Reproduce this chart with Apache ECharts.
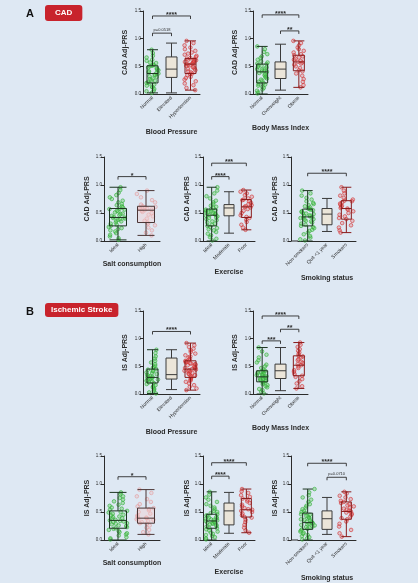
<!DOCTYPE html>
<html>
<head>
<meta charset="utf-8">
<script src="https://cdn.jsdelivr.net/npm/echarts@6/dist/echarts.min.js"></script>
<style>
html, body { margin: 0; padding: 0; background: #dee8f3; }
#main { width: 418px; height: 583px; }
</style>
</head>
<body>
<div id="main"></div>
<script>
// categories
var bpCats = ['Normal', 'Elevated', 'Hypertension'];
var bmiCats = ['Normal', 'Overweight', 'Obese'];
var saltCats = ['Ideal', 'High'];
var exCats = ['Ideal', 'Moderate', 'Poor'];
var smokeCats = ['Non-smokers', 'Quit <1 year', 'Smokers'];

// box stats: [min, Q1, median, Q3, max]
var cadBpBox = [[0.02, 0.20, 0.37, 0.51, 0.80], [0.02, 0.30, 0.45, 0.67, 0.92], [0.07, 0.37, 0.54, 0.64, 0.96]];
var cadBmiBox = [[0.00, 0.20, 0.40, 0.54, 0.86], [0.07, 0.28, 0.45, 0.58, 0.90], [0.12, 0.42, 0.58, 0.70, 0.96]];
var cadSaltBox = [[0.02, 0.27, 0.42, 0.58, 0.96], [0.10, 0.33, 0.55, 0.62, 0.90]];
var cadExBox = [[0.00, 0.27, 0.46, 0.57, 0.96], [0.14, 0.45, 0.59, 0.65, 0.88], [0.20, 0.42, 0.61, 0.74, 0.91]];
var cadSmokeBox = [[0.00, 0.27, 0.43, 0.57, 0.90], [0.17, 0.29, 0.48, 0.58, 0.76], [0.15, 0.39, 0.58, 0.72, 0.96]];
var isBpBox = [[0.01, 0.20, 0.30, 0.45, 0.80], [0.08, 0.27, 0.35, 0.65, 0.80], [0.07, 0.30, 0.45, 0.60, 0.92]];
var isBmiBox = [[0.00, 0.22, 0.31, 0.42, 0.84], [0.06, 0.28, 0.42, 0.54, 0.84], [0.10, 0.33, 0.52, 0.69, 0.93]];
var isSaltBox = [[0.00, 0.21, 0.35, 0.52, 0.85], [0.10, 0.30, 0.39, 0.57, 0.90]];
var isExBox = [[0.00, 0.21, 0.34, 0.46, 0.86], [0.12, 0.27, 0.52, 0.66, 0.85], [0.13, 0.41, 0.54, 0.74, 0.91]];
var isSmokeBox = [[0.00, 0.19, 0.31, 0.48, 0.91], [0.10, 0.19, 0.38, 0.52, 0.76], [0.06, 0.37, 0.51, 0.68, 0.86]];

// individual points (read approx. from the dot clouds)
var cadBpNormal = [0.02,0.05,0.06,0.09,0.12,0.13,0.15,0.17,0.19,0.20,0.21,0.24,0.25,0.27,0.28,0.31,0.32,0.34,0.35,0.37,0.38,0.39,0.41,0.43,0.44,0.45,0.47,0.48,0.50,0.51,0.52,0.53,0.56,0.57,0.60,0.62,0.66,0.69,0.74,0.80];
var cadBpHyper = [0.07,0.11,0.16,0.19,0.23,0.26,0.29,0.31,0.34,0.36,0.37,0.39,0.41,0.43,0.45,0.46,0.48,0.49,0.51,0.52,0.53,0.54,0.55,0.56,0.57,0.58,0.59,0.60,0.61,0.62,0.63,0.64,0.65,0.67,0.69,0.71,0.73,0.75,0.78,0.81,0.84,0.88,0.92,0.96];
var cadBmiNormal = [0.01,0.03,0.06,0.08,0.11,0.13,0.15,0.17,0.18,0.20,0.22,0.24,0.26,0.28,0.30,0.32,0.34,0.36,0.38,0.40,0.41,0.42,0.44,0.45,0.46,0.48,0.49,0.51,0.52,0.54,0.55,0.57,0.59,0.62,0.65,0.68,0.72,0.76,0.81,0.86];
var cadBmiObese = [0.12,0.16,0.22,0.27,0.33,0.37,0.41,0.43,0.47,0.50,0.53,0.55,0.57,0.58,0.60,0.62,0.64,0.66,0.68,0.70,0.72,0.75,0.78,0.81,0.84,0.88,0.92,0.96];
var cadSaltIdeal = [0.02,0.05,0.08,0.11,0.14,0.17,0.19,0.21,0.23,0.25,0.27,0.29,0.31,0.33,0.35,0.36,0.38,0.39,0.40,0.41,0.42,0.43,0.45,0.46,0.48,0.49,0.51,0.53,0.54,0.56,0.57,0.58,0.60,0.62,0.64,0.66,0.69,0.72,0.75,0.78,0.82,0.86,0.91,0.96];
var cadSaltHigh = [0.10,0.15,0.19,0.24,0.28,0.31,0.33,0.36,0.40,0.44,0.47,0.50,0.52,0.54,0.55,0.56,0.57,0.58,0.59,0.60,0.61,0.62,0.65,0.69,0.73,0.78,0.84,0.90];
var cadExIdeal = [0.01,0.04,0.07,0.10,0.13,0.16,0.19,0.21,0.23,0.25,0.27,0.29,0.31,0.33,0.35,0.37,0.39,0.41,0.42,0.44,0.45,0.46,0.47,0.48,0.49,0.50,0.51,0.52,0.53,0.54,0.55,0.56,0.57,0.59,0.61,0.63,0.66,0.69,0.72,0.76,0.80,0.85,0.90,0.96];
var cadExPoor = [0.20,0.24,0.29,0.34,0.38,0.41,0.43,0.46,0.50,0.54,0.57,0.60,0.61,0.62,0.64,0.66,0.68,0.71,0.73,0.74,0.76,0.79,0.82,0.85,0.88,0.91];
var cadSmokeNon = [0.01,0.03,0.06,0.09,0.12,0.15,0.18,0.20,0.23,0.25,0.27,0.29,0.31,0.33,0.35,0.36,0.38,0.39,0.41,0.42,0.43,0.44,0.45,0.46,0.48,0.49,0.50,0.52,0.53,0.55,0.56,0.57,0.58,0.60,0.62,0.64,0.66,0.68,0.71,0.74,0.77,0.81,0.85,0.90];
var cadSmokeYes = [0.15,0.19,0.24,0.28,0.32,0.36,0.39,0.41,0.44,0.47,0.50,0.53,0.56,0.58,0.59,0.61,0.63,0.65,0.67,0.69,0.71,0.72,0.74,0.77,0.81,0.85,0.90,0.96];
var isBpNormal = [0.01,0.03,0.06,0.08,0.10,0.12,0.14,0.16,0.18,0.20,0.21,0.22,0.24,0.25,0.26,0.27,0.28,0.29,0.30,0.31,0.32,0.33,0.35,0.36,0.38,0.39,0.41,0.42,0.44,0.45,0.47,0.49,0.51,0.54,0.57,0.60,0.64,0.68,0.74,0.80];
var isBpHyper = [0.07,0.10,0.13,0.16,0.19,0.22,0.24,0.26,0.28,0.30,0.31,0.33,0.34,0.36,0.37,0.38,0.40,0.41,0.42,0.43,0.44,0.45,0.46,0.47,0.48,0.49,0.51,0.52,0.53,0.54,0.55,0.56,0.57,0.58,0.59,0.60,0.62,0.64,0.66,0.68,0.70,0.73,0.76,0.79,0.82,0.85,0.88,0.92];
var isBmiNormal = [0.01,0.04,0.07,0.09,0.12,0.14,0.16,0.18,0.20,0.22,0.23,0.24,0.25,0.26,0.27,0.28,0.29,0.30,0.31,0.32,0.33,0.34,0.35,0.36,0.37,0.38,0.39,0.40,0.41,0.42,0.44,0.47,0.50,0.53,0.57,0.61,0.66,0.71,0.77,0.84];
var isBmiObese = [0.10,0.14,0.19,0.23,0.27,0.31,0.33,0.36,0.40,0.43,0.47,0.50,0.52,0.54,0.56,0.58,0.61,0.63,0.66,0.68,0.69,0.72,0.75,0.78,0.81,0.85,0.89,0.93];
var isSaltIdeal = [0.01,0.03,0.05,0.08,0.10,0.12,0.14,0.16,0.18,0.20,0.21,0.23,0.25,0.26,0.28,0.29,0.30,0.32,0.33,0.34,0.35,0.36,0.38,0.39,0.41,0.42,0.44,0.45,0.47,0.49,0.50,0.52,0.54,0.56,0.58,0.61,0.63,0.66,0.69,0.72,0.75,0.78,0.82,0.85];
var isSaltHigh = [0.10,0.14,0.18,0.22,0.26,0.29,0.30,0.32,0.34,0.36,0.37,0.38,0.39,0.40,0.42,0.44,0.47,0.50,0.53,0.55,0.57,0.60,0.64,0.68,0.73,0.78,0.84,0.90];
var isExIdeal = [0.01,0.03,0.05,0.07,0.09,0.11,0.13,0.15,0.17,0.19,0.21,0.22,0.24,0.25,0.27,0.28,0.29,0.30,0.31,0.32,0.33,0.34,0.35,0.36,0.37,0.38,0.39,0.40,0.41,0.43,0.44,0.46,0.48,0.50,0.52,0.55,0.58,0.61,0.64,0.68,0.72,0.76,0.81,0.86];
var isExPoor = [0.13,0.17,0.22,0.27,0.32,0.36,0.40,0.41,0.44,0.47,0.50,0.52,0.54,0.55,0.57,0.60,0.63,0.66,0.69,0.72,0.74,0.77,0.80,0.84,0.87,0.91];
var isSmokeNon = [0.01,0.03,0.05,0.07,0.09,0.11,0.13,0.15,0.17,0.19,0.20,0.22,0.23,0.24,0.26,0.27,0.28,0.29,0.30,0.31,0.32,0.33,0.35,0.36,0.37,0.39,0.40,0.42,0.43,0.45,0.46,0.48,0.50,0.52,0.55,0.58,0.61,0.64,0.68,0.72,0.76,0.80,0.85,0.91];
var isSmokeYes = [0.06,0.12,0.18,0.24,0.29,0.33,0.37,0.39,0.42,0.45,0.47,0.49,0.51,0.52,0.54,0.56,0.58,0.60,0.62,0.64,0.66,0.68,0.70,0.73,0.76,0.79,0.83,0.86];

// significance brackets: [fromIndex, y, toIndex, label]
var cadBpSig = [[0, 1.41, 2, '****'], [0, 1.10, 1, 'p=0.0518']];
var cadBmiSig = [[0, 1.43, 2, '****'], [1, 1.14, 2, '**']];
var cadSaltSig = [[0, 1.15, 1, '*']];
var cadExSig = [[0, 1.39, 2, '***'], [0, 1.15, 1, '****']];
var cadSmokeSig = [[0, 1.21, 2, '****']];
var isBpSig = [[0, 1.13, 2, '****']];
var isBmiSig = [[0, 1.41, 2, '****'], [1, 1.17, 2, '**'], [0, 0.96, 1, '***']];
var isSaltSig = [[0, 1.13, 1, '*']];
var isExSig = [[0, 1.38, 2, '****'], [0, 1.14, 1, '****']];
var isSmokeSig = [[0, 1.37, 2, '****'], [1, 1.12, 2, 'p=0.0710']];

var FONT = 'Liberation Sans, Arial, sans-serif';
var INK = '#2b2b2b';

// group looks: green / neutral / red / pink
var looks = {
    green: { box: { color: 'rgba(0,0,0,0)', borderColor: '#1d3620', borderWidth: 1 }, pt: { color: 'rgba(90,200,80,0.45)', borderColor: '#35b13e', borderWidth: 0.8 } },
    grey: { box: { color: '#ebe5d9', borderColor: '#3a3a3a', borderWidth: 1 } },
    red: { box: { color: 'rgba(0,0,0,0)', borderColor: '#8a1b1b', borderWidth: 1 }, pt: { color: 'rgba(225,80,80,0.3)', borderColor: '#d33535', borderWidth: 0.8 } },
    pink: { box: { color: 'rgba(245,205,205,0.4)', borderColor: '#4a3535', borderWidth: 1 }, pt: { color: 'rgba(240,160,160,0.25)', borderColor: '#e49595', borderWidth: 0.7 } }
};

var panels = [
    { grid: { left: 143, top: 11, width: 57, height: 83 }, cats: bpCats, box: cadBpBox, pts: [cadBpNormal, null, cadBpHyper], look: ['green', 'grey', 'red'], sig: cadBpSig, yName: 'CAD Adj-PRS', xName: 'Blood Pressure', yGap: 14, xGap: 35, boxW: 11, jit: 12 },
    { grid: { left: 253, top: 11, width: 55, height: 83 }, cats: bmiCats, box: cadBmiBox, pts: [cadBmiNormal, null, cadBmiObese], look: ['green', 'grey', 'red'], sig: cadBmiSig, yName: 'CAD Adj-PRS', xName: 'Body Mass Index', yGap: 14, xGap: 31, boxW: 11, jit: 11 },
    { grid: { left: 104, top: 157, width: 56, height: 84 }, cats: saltCats, box: cadSaltBox, pts: [cadSaltIdeal, cadSaltHigh], look: ['green', 'pink'], sig: cadSaltSig, yName: 'CAD Adj-PRS', xName: 'Salt consumption', yGap: 13, xGap: 20, boxW: 17, jit: 19 },
    { grid: { left: 203, top: 157, width: 52, height: 84 }, cats: exCats, box: cadExBox, pts: [cadExIdeal, null, cadExPoor], look: ['green', 'grey', 'red'], sig: cadExSig, yName: 'CAD Adj-PRS', xName: 'Exercise', yGap: 12, xGap: 28, boxW: 10, jit: 12 },
    { grid: { left: 298, top: 157, width: 58, height: 84 }, yOff: 7, cats: smokeCats, box: cadSmokeBox, pts: [cadSmokeNon, null, cadSmokeYes], look: ['green', 'grey', 'red'], sig: cadSmokeSig, yName: 'CAD Adj-PRS', xName: 'Smoking status', yGap: 4, xGap: 34, boxW: 10, jit: 15 },
    { grid: { left: 143, top: 311, width: 57, height: 83 }, cats: bpCats, box: isBpBox, pts: [isBpNormal, null, isBpHyper], look: ['green', 'grey', 'red'], sig: isBpSig, yName: 'IS Adj-PRS', xName: 'Blood Pressure', yGap: 14, xGap: 35, boxW: 11, jit: 12 },
    { grid: { left: 253, top: 311, width: 55, height: 83 }, cats: bmiCats, box: isBmiBox, pts: [isBmiNormal, null, isBmiObese], look: ['green', 'grey', 'red'], sig: isBmiSig, yName: 'IS Adj-PRS', xName: 'Body Mass Index', yGap: 14, xGap: 31, boxW: 11, jit: 11 },
    { grid: { left: 104, top: 456, width: 56, height: 84 }, cats: saltCats, box: isSaltBox, pts: [isSaltIdeal, isSaltHigh], look: ['green', 'pink'], sig: isSaltSig, yName: 'IS Adj-PRS', xName: 'Salt consumption', yGap: 13, xGap: 20, boxW: 17, jit: 19 },
    { grid: { left: 203, top: 456, width: 52, height: 84 }, cats: exCats, box: isExBox, pts: [isExIdeal, null, isExPoor], look: ['green', 'grey', 'red'], sig: isExSig, yName: 'IS Adj-PRS', xName: 'Exercise', yGap: 12, xGap: 29, boxW: 10, jit: 12 },
    { grid: { left: 298, top: 456, width: 58, height: 84 }, yOff: 7, cats: smokeCats, box: isSmokeBox, pts: [isSmokeNon, null, isSmokeYes], look: ['green', 'grey', 'red'], sig: isSmokeSig, yName: 'IS Adj-PRS', xName: 'Smoking status', yGap: 4, xGap: 35, boxW: 10, jit: 15 }
];

var grids = [], xAxes = [], yAxes = [], series = [], graphics = [];

panels.forEach(function (p, i) {
    grids.push(Object.assign({ containLabel: false }, p.grid));
    xAxes.push({
        gridIndex: i, type: 'category', data: p.cats,
        jitter: p.jit, jitterOverlap: true,
        name: p.xName, nameLocation: 'middle', nameGap: p.xGap,
        nameTextStyle: { fontFamily: FONT, fontSize: 7, fontWeight: 'bold', color: INK },
        axisLine: { lineStyle: { color: INK, width: 1 } },
        axisTick: { alignWithLabel: true, length: 3, lineStyle: { color: INK } },
        axisLabel: { rotate: 45, fontSize: 5, margin: 3, color: INK, fontFamily: FONT, interval: 0 },
        splitLine: { show: false }
    });
    yAxes.push({
        gridIndex: i, type: 'value', min: 0, max: 1.5, interval: 0.5, offset: p.yOff || 0,
        name: p.yName, nameLocation: 'middle', nameGap: p.yGap,
        nameTextStyle: { fontFamily: FONT, fontSize: 7, fontWeight: 'bold', color: INK },
        axisLine: { show: true, lineStyle: { color: INK, width: 1 } },
        axisTick: { show: true, length: 3, lineStyle: { color: INK } },
        axisLabel: { fontSize: 4.5, margin: 2, color: INK, fontFamily: FONT, formatter: function (v) { return v.toFixed(1); } },
        splitLine: { show: false }
    });
    if (p.yOff) {
        // close the gap between the offset y axis and the x axis line
        graphics.push({ type: 'line', shape: { x1: p.grid.left - p.yOff, y1: p.grid.top + p.grid.height, x2: p.grid.left, y2: p.grid.top + p.grid.height }, style: { stroke: INK, lineWidth: 1 } });
    }
    p.pts.forEach(function (vals, ci) {
        if (!vals) return;
        series.push({
            type: 'scatter', xAxisIndex: i, yAxisIndex: i, z: 2,
            symbol: 'circle', symbolSize: 3.6,
            itemStyle: looks[p.look[ci]].pt,
            data: vals.map(function (v) { return [ci, v]; }),
            silent: true
        });
    });
    series.push({
        type: 'boxplot', xAxisIndex: i, yAxisIndex: i, z: 3,
        boxWidth: [p.boxW, p.boxW],
        data: p.box.map(function (b, ci) { return { value: b, itemStyle: looks[p.look[ci]].box }; }),
        silent: true
    });
    var sig = p.sig;
    series.push({
        type: 'custom', xAxisIndex: i, yAxisIndex: i, z: 4, silent: true,
        encode: { x: 0, y: 1 },
        data: sig.map(function (s) { return [s[0], s[1], s[2]]; }),
        renderItem: function (params, api) {
            var s = sig[params.dataIndex];
            var a = api.coord([api.value(0), api.value(1)]);
            var b = api.coord([api.value(2), api.value(1)]);
            var stars = s[3].charAt(0) === '*';
            return {
                type: 'group',
                children: [
                    { type: 'polyline', shape: { points: [[a[0], a[1] + 3], [a[0], a[1]], [b[0], b[1]], [b[0], b[1] + 3]] }, style: { stroke: INK, lineWidth: 0.9, fill: null } },
                    { type: 'text', style: { text: s[3], x: (a[0] + b[0]) / 2, y: stars ? a[1] - 1 : a[1] - 1.5, align: 'center', verticalAlign: stars ? 'middle' : 'bottom', fill: INK, font: (stars ? 'bold 7px ' : '4px ') + FONT } }
                ]
            };
        }
    });
});

var chart = echarts.init(document.getElementById('main'), null, { renderer: 'canvas' });
chart.setOption({
    backgroundColor: '#dee8f3',
    animation: false,
    title: [
        { text: 'A', left: 26, top: 8, padding: 0, textStyle: { fontFamily: FONT, fontSize: 11, fontWeight: 'bold', color: '#111' } },
        { text: 'CAD', left: 45, top: 5, padding: [4, 10, 4, 10], backgroundColor: '#c8232c', borderRadius: 3, textStyle: { fontFamily: FONT, fontSize: 8, fontWeight: 'bold', color: '#fff' } },
        { text: 'B', left: 26, top: 306, padding: 0, textStyle: { fontFamily: FONT, fontSize: 11, fontWeight: 'bold', color: '#111' } },
        { text: 'Ischemic Stroke', left: 45, top: 303, padding: [3, 6, 3, 6], backgroundColor: '#c8232c', borderRadius: 3, textStyle: { fontFamily: FONT, fontSize: 8, fontWeight: 'bold', color: '#fff' } }
    ],
    grid: grids,
    xAxis: xAxes,
    yAxis: yAxes,
    series: series,
    graphic: graphics
});
</script>
</body>
</html>
